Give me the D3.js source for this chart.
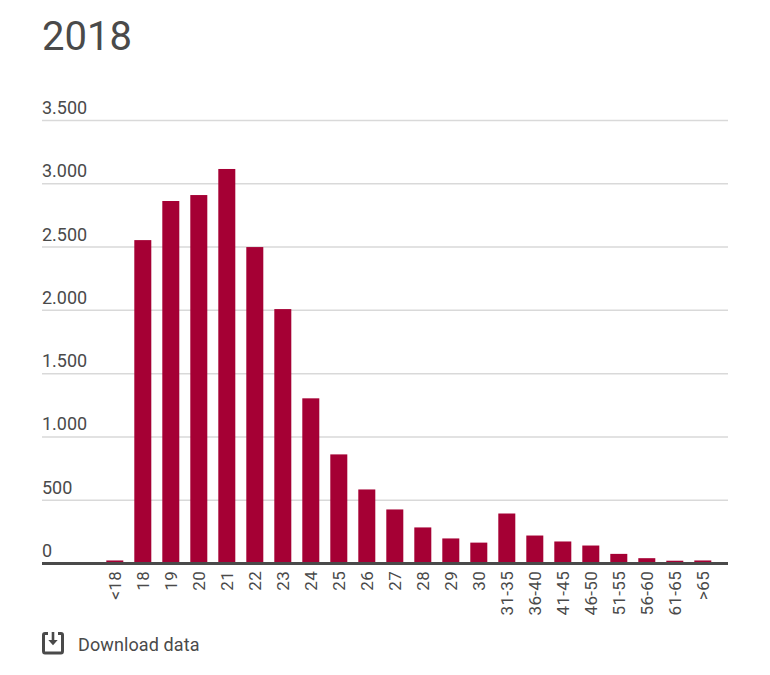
<!DOCTYPE html>
<html><head><meta charset="utf-8">
<script src="https://cdn.jsdelivr.net/npm/d3@7"></script>
<style>html,body{margin:0;padding:0;background:#fff;}svg{display:block;}text{font-family:Roboto,sans-serif;fill:#4a4a4a;}</style>
</head><body><svg id="c" width="770" height="675"></svg>
<script>
const categories = ["<18","18","19","20","21","22","23","24","25","26","27","28","29","30","31-35","36-40","41-45","46-50","51-55","56-60","61-65",">65"];
const values = [24,2555,2864,2911,3117,2500,2010,1305,862,585,427,285,198,165,395,221,174,142,76,42,22,24];
const yTicks = [0,500,1000,1500,2000,2500,3000,3500];
const tickLabels = ["0","500","1.000","1.500","2.000","2.500","3.000","3.500"];
const svg = d3.select("#c");
const x = d3.scaleBand().domain(categories).range([100.8,716.8]).paddingInner(11/28).paddingOuter(5.5/28);
const y = d3.scaleLinear().domain([0,3500]).range([563.5,120.5]);
const L=42,R=728;
svg.append("text").attr("x",42).attr("y",50).attr("font-size",40).text("2018");
svg.append("g").selectAll("line").data(yTicks.slice(1)).join("line")
 .attr("x1",L).attr("x2",R).attr("y1",d=>y(d)).attr("y2",d=>y(d)).attr("stroke","#d9d9d9").attr("stroke-width",1.5);
svg.append("g").selectAll("text").data(yTicks).join("text")
 .attr("x",L).attr("y",d=>y(d)-6.5).attr("font-size",18).text((d,i)=>tickLabels[i]);
svg.append("g").selectAll("rect").data(values).join("rect")
 .attr("x",(d,i)=>x(categories[i])).attr("width",x.bandwidth())
 .attr("y",d=>y(d)).attr("height",d=>y(0)-y(d)).attr("fill","#a50034");
svg.append("line").attr("x1",L).attr("x2",R).attr("y1",y(0)).attr("y2",y(0)).attr("stroke","#4a4a4a").attr("stroke-width",3);
svg.append("g").selectAll("text").data(categories).join("text")
 .attr("transform",d=>`translate(${x(d)+x.bandwidth()/2+6.5},571) rotate(-90)`)
 .attr("text-anchor","end").attr("font-size",17).style("letter-spacing","0.3px").text(d=>d);
const ic = svg.append("g").attr("transform","translate(42,632)");
ic.append("path").attr("d","M6 1.5H3Q1.5 1.5 1.5 3V19Q1.5 21 3 21H19Q20.5 21 20.5 19V3Q20.5 1.5 19 1.5H16").attr("fill","none").attr("stroke","#4a4a4a").attr("stroke-width",3);
ic.append("path").attr("d","M9.7 0H12.3V8H15.7L11 13.2L6.3 8H9.7Z").attr("fill","#4a4a4a");
svg.append("text").attr("x",78).attr("y",651).attr("font-size",18).style("letter-spacing","0.1px").text("Download data");
</script></body></html>
